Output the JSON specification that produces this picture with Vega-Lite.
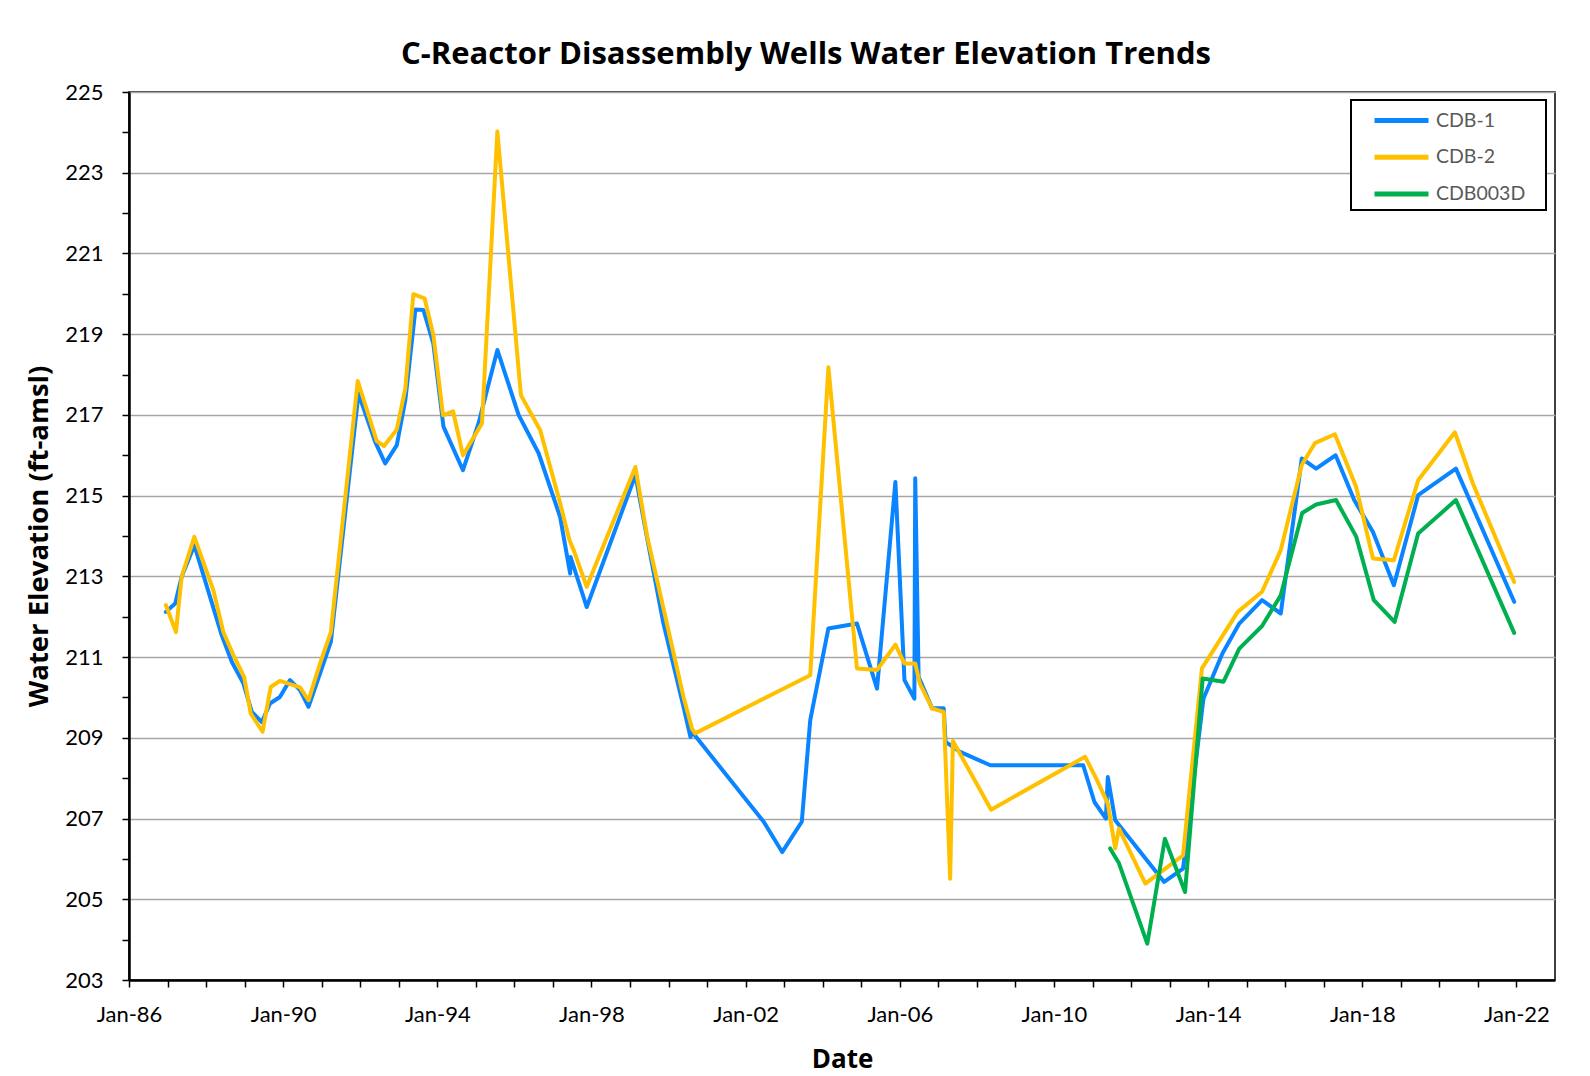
{
  "$schema": "https://vega.github.io/schema/vega-lite/v6.json",
  "autosize": {"type": "none"},
  "padding": {"left": 129, "top": 92, "right": 35, "bottom": 96},
  "width": 1426,
  "height": 888,
  "background": "white",
  "config": {
    "font": "Lato",
    "view": {"stroke": "#000000", "strokeWidth": 1.5},
    "axis": {"labelColor": "#000000", "titleColor": "#000000", "labelFont": "Lato", "titleFont": "Open Sans"}
  },
  "title": {
    "text": "C-Reactor Disassembly Wells Water Elevation Trends",
    "font": "Open Sans",
    "fontSize": 31,
    "fontWeight": "bold",
    "color": "#000000",
    "anchor": "middle",
    "baseline": "alphabetic",
    "offset": 28,
    "dx": -36,
    "dy": 42
  },
  "data": {
    "values": [
      {"well": "CDB-1", "date": "1986-12-16", "elev": 212.12},
      {"well": "CDB-1", "date": "1987-03-15", "elev": 212.33},
      {"well": "CDB-1", "date": "1987-05-15", "elev": 212.99},
      {"well": "CDB-1", "date": "1987-09-12", "elev": 213.77},
      {"well": "CDB-1", "date": "1988-05-29", "elev": 211.54},
      {"well": "CDB-1", "date": "1988-09-02", "elev": 210.88},
      {"well": "CDB-1", "date": "1988-12-20", "elev": 210.35},
      {"well": "CDB-1", "date": "1989-03-10", "elev": 209.64},
      {"well": "CDB-1", "date": "1989-06-13", "elev": 209.39},
      {"well": "CDB-1", "date": "1989-08-29", "elev": 209.85},
      {"well": "CDB-1", "date": "1989-12-01", "elev": 210.01},
      {"well": "CDB-1", "date": "1990-03-07", "elev": 210.43},
      {"well": "CDB-1", "date": "1990-06-10", "elev": 210.18},
      {"well": "CDB-1", "date": "1990-08-29", "elev": 209.77},
      {"well": "CDB-1", "date": "1990-12-16", "elev": 210.59},
      {"well": "CDB-1", "date": "1991-03-29", "elev": 211.38},
      {"well": "CDB-1", "date": "1991-12-16", "elev": 217.53},
      {"well": "CDB-1", "date": "1992-05-22", "elev": 216.33},
      {"well": "CDB-1", "date": "1992-08-25", "elev": 215.8},
      {"well": "CDB-1", "date": "1992-12-13", "elev": 216.25},
      {"well": "CDB-1", "date": "1993-03-04", "elev": 217.37},
      {"well": "CDB-1", "date": "1993-06-07", "elev": 219.61},
      {"well": "CDB-1", "date": "1993-08-22", "elev": 219.6},
      {"well": "CDB-1", "date": "1993-11-24", "elev": 218.77},
      {"well": "CDB-1", "date": "1994-02-28", "elev": 216.71},
      {"well": "CDB-1", "date": "1994-09-01", "elev": 215.63},
      {"well": "CDB-1", "date": "1995-01-26", "elev": 216.79},
      {"well": "CDB-1", "date": "1995-07-24", "elev": 218.61},
      {"well": "CDB-1", "date": "1996-02-10", "elev": 217.0},
      {"well": "CDB-1", "date": "1996-08-18", "elev": 216.05},
      {"well": "CDB-1", "date": "1997-03-10", "elev": 214.47},
      {"well": "CDB-1", "date": "1997-06-13", "elev": 213.07},
      {"well": "CDB-1", "date": "1997-06-17", "elev": 213.48},
      {"well": "CDB-1", "date": "1997-11-17", "elev": 212.24},
      {"well": "CDB-1", "date": "1999-02-21", "elev": 215.51},
      {"well": "CDB-1", "date": "1999-06-10", "elev": 213.98},
      {"well": "CDB-1", "date": "1999-11-14", "elev": 211.83},
      {"well": "CDB-1", "date": "2000-05-22", "elev": 209.77},
      {"well": "CDB-1", "date": "2000-07-27", "elev": 209.02},
      {"well": "CDB-1", "date": "2000-08-10", "elev": 209.15},
      {"well": "CDB-1", "date": "2002-06-21", "elev": 206.92},
      {"well": "CDB-1", "date": "2002-12-13", "elev": 206.17},
      {"well": "CDB-1", "date": "2003-06-17", "elev": 206.92},
      {"well": "CDB-1", "date": "2003-09-05", "elev": 209.44},
      {"well": "CDB-1", "date": "2004-02-24", "elev": 211.71},
      {"well": "CDB-1", "date": "2004-11-21", "elev": 211.83},
      {"well": "CDB-1", "date": "2005-05-30", "elev": 210.22},
      {"well": "CDB-1", "date": "2005-11-20", "elev": 215.34},
      {"well": "CDB-1", "date": "2006-02-14", "elev": 210.43},
      {"well": "CDB-1", "date": "2006-05-19", "elev": 209.97},
      {"well": "CDB-1", "date": "2006-05-27", "elev": 215.43},
      {"well": "CDB-1", "date": "2006-06-28", "elev": 210.51},
      {"well": "CDB-1", "date": "2006-11-03", "elev": 209.73},
      {"well": "CDB-1", "date": "2007-02-21", "elev": 209.73},
      {"well": "CDB-1", "date": "2007-03-10", "elev": 208.9},
      {"well": "CDB-1", "date": "2007-07-27", "elev": 208.65},
      {"well": "CDB-1", "date": "2008-05-08", "elev": 208.32},
      {"well": "CDB-1", "date": "2010-10-05", "elev": 208.32},
      {"well": "CDB-1", "date": "2011-01-19", "elev": 207.41},
      {"well": "CDB-1", "date": "2011-05-08", "elev": 207.0},
      {"well": "CDB-1", "date": "2011-05-26", "elev": 208.03},
      {"well": "CDB-1", "date": "2011-08-04", "elev": 206.96},
      {"well": "CDB-1", "date": "2012-11-10", "elev": 205.43},
      {"well": "CDB-1", "date": "2013-05-08", "elev": 205.76},
      {"well": "CDB-1", "date": "2013-11-17", "elev": 209.97},
      {"well": "CDB-1", "date": "2014-05-16", "elev": 211.09},
      {"well": "CDB-1", "date": "2014-10-23", "elev": 211.83},
      {"well": "CDB-1", "date": "2015-05-27", "elev": 212.41},
      {"well": "CDB-1", "date": "2015-11-20", "elev": 212.08},
      {"well": "CDB-1", "date": "2016-06-06", "elev": 215.92},
      {"well": "CDB-1", "date": "2016-10-20", "elev": 215.67},
      {"well": "CDB-1", "date": "2017-04-23", "elev": 216.0},
      {"well": "CDB-1", "date": "2017-10-16", "elev": 214.89},
      {"well": "CDB-1", "date": "2018-04-12", "elev": 214.1},
      {"well": "CDB-1", "date": "2018-10-27", "elev": 212.78},
      {"well": "CDB-1", "date": "2019-06-14", "elev": 215.01},
      {"well": "CDB-1", "date": "2020-06-06", "elev": 215.67},
      {"well": "CDB-1", "date": "2021-12-10", "elev": 212.37},
      {"well": "CDB-2", "date": "1986-12-16", "elev": 212.29},
      {"well": "CDB-2", "date": "1987-03-22", "elev": 211.62},
      {"well": "CDB-2", "date": "1987-05-15", "elev": 212.99},
      {"well": "CDB-2", "date": "1987-09-12", "elev": 213.98},
      {"well": "CDB-2", "date": "1988-03-10", "elev": 212.66},
      {"well": "CDB-2", "date": "1988-06-13", "elev": 211.62},
      {"well": "CDB-2", "date": "1988-09-16", "elev": 211.05},
      {"well": "CDB-2", "date": "1988-12-27", "elev": 210.51},
      {"well": "CDB-2", "date": "1989-02-28", "elev": 209.6},
      {"well": "CDB-2", "date": "1989-06-20", "elev": 209.15},
      {"well": "CDB-2", "date": "1989-09-05", "elev": 210.26},
      {"well": "CDB-2", "date": "1989-12-01", "elev": 210.41},
      {"well": "CDB-2", "date": "1990-06-10", "elev": 210.25},
      {"well": "CDB-2", "date": "1990-08-29", "elev": 209.93},
      {"well": "CDB-2", "date": "1990-12-16", "elev": 210.84},
      {"well": "CDB-2", "date": "1991-03-29", "elev": 211.62},
      {"well": "CDB-2", "date": "1991-12-09", "elev": 217.84},
      {"well": "CDB-2", "date": "1992-06-06", "elev": 216.35},
      {"well": "CDB-2", "date": "1992-08-14", "elev": 216.23},
      {"well": "CDB-2", "date": "1992-12-13", "elev": 216.64},
      {"well": "CDB-2", "date": "1993-03-04", "elev": 217.66},
      {"well": "CDB-2", "date": "1993-05-19", "elev": 219.99},
      {"well": "CDB-2", "date": "1993-09-02", "elev": 219.89},
      {"well": "CDB-2", "date": "1993-11-24", "elev": 218.98},
      {"well": "CDB-2", "date": "1994-02-24", "elev": 216.99},
      {"well": "CDB-2", "date": "1994-05-30", "elev": 217.09},
      {"well": "CDB-2", "date": "1994-09-01", "elev": 216.0},
      {"well": "CDB-2", "date": "1995-02-28", "elev": 216.79},
      {"well": "CDB-2", "date": "1995-07-24", "elev": 224.02},
      {"well": "CDB-2", "date": "1996-03-03", "elev": 217.49},
      {"well": "CDB-2", "date": "1996-09-02", "elev": 216.62},
      {"well": "CDB-2", "date": "1997-03-10", "elev": 214.81},
      {"well": "CDB-2", "date": "1997-06-06", "elev": 213.9},
      {"well": "CDB-2", "date": "1997-07-16", "elev": 213.65},
      {"well": "CDB-2", "date": "1997-11-17", "elev": 212.74},
      {"well": "CDB-2", "date": "1999-02-21", "elev": 215.71},
      {"well": "CDB-2", "date": "1999-06-10", "elev": 214.02},
      {"well": "CDB-2", "date": "2000-05-22", "elev": 210.01},
      {"well": "CDB-2", "date": "2000-08-10", "elev": 209.23},
      {"well": "CDB-2", "date": "2000-09-09", "elev": 209.11},
      {"well": "CDB-2", "date": "2003-09-05", "elev": 210.55},
      {"well": "CDB-2", "date": "2004-02-24", "elev": 218.18},
      {"well": "CDB-2", "date": "2004-11-21", "elev": 210.72},
      {"well": "CDB-2", "date": "2005-05-30", "elev": 210.68},
      {"well": "CDB-2", "date": "2005-11-20", "elev": 211.31},
      {"well": "CDB-2", "date": "2006-02-14", "elev": 210.84},
      {"well": "CDB-2", "date": "2006-05-27", "elev": 210.84},
      {"well": "CDB-2", "date": "2006-07-09", "elev": 210.35},
      {"well": "CDB-2", "date": "2006-11-03", "elev": 209.73},
      {"well": "CDB-2", "date": "2007-02-21", "elev": 209.64},
      {"well": "CDB-2", "date": "2007-04-23", "elev": 205.51},
      {"well": "CDB-2", "date": "2007-05-19", "elev": 208.92},
      {"well": "CDB-2", "date": "2008-05-15", "elev": 207.22},
      {"well": "CDB-2", "date": "2010-10-23", "elev": 208.53},
      {"well": "CDB-2", "date": "2011-02-06", "elev": 207.99},
      {"well": "CDB-2", "date": "2011-05-26", "elev": 207.37},
      {"well": "CDB-2", "date": "2011-08-04", "elev": 206.26},
      {"well": "CDB-2", "date": "2011-09-09", "elev": 206.75},
      {"well": "CDB-2", "date": "2012-05-16", "elev": 205.39},
      {"well": "CDB-2", "date": "2013-05-08", "elev": 206.09},
      {"well": "CDB-2", "date": "2013-11-03", "elev": 210.72},
      {"well": "CDB-2", "date": "2014-10-08", "elev": 212.12},
      {"well": "CDB-2", "date": "2015-05-27", "elev": 212.62},
      {"well": "CDB-2", "date": "2015-11-20", "elev": 213.65},
      {"well": "CDB-2", "date": "2016-06-06", "elev": 215.76},
      {"well": "CDB-2", "date": "2016-10-08", "elev": 216.3},
      {"well": "CDB-2", "date": "2017-04-16", "elev": 216.52},
      {"well": "CDB-2", "date": "2017-11-03", "elev": 215.22},
      {"well": "CDB-2", "date": "2018-04-12", "elev": 213.44},
      {"well": "CDB-2", "date": "2018-10-27", "elev": 213.4},
      {"well": "CDB-2", "date": "2019-06-14", "elev": 215.38},
      {"well": "CDB-2", "date": "2020-05-27", "elev": 216.57},
      {"well": "CDB-2", "date": "2020-11-14", "elev": 215.3},
      {"well": "CDB-2", "date": "2021-12-10", "elev": 212.86},
      {"well": "CDB003D", "date": "2011-06-17", "elev": 206.26},
      {"well": "CDB003D", "date": "2011-09-09", "elev": 205.89},
      {"well": "CDB003D", "date": "2012-06-03", "elev": 203.9},
      {"well": "CDB003D", "date": "2012-11-17", "elev": 206.5},
      {"well": "CDB003D", "date": "2013-05-27", "elev": 205.18},
      {"well": "CDB003D", "date": "2013-11-10", "elev": 210.47},
      {"well": "CDB003D", "date": "2014-05-27", "elev": 210.39},
      {"well": "CDB003D", "date": "2014-10-23", "elev": 211.21},
      {"well": "CDB003D", "date": "2015-05-27", "elev": 211.77},
      {"well": "CDB003D", "date": "2015-11-20", "elev": 212.53},
      {"well": "CDB003D", "date": "2016-06-10", "elev": 214.57},
      {"well": "CDB003D", "date": "2016-10-20", "elev": 214.78},
      {"well": "CDB003D", "date": "2017-04-27", "elev": 214.89},
      {"well": "CDB003D", "date": "2017-11-03", "elev": 213.99},
      {"well": "CDB003D", "date": "2018-04-20", "elev": 212.41},
      {"well": "CDB003D", "date": "2018-11-03", "elev": 211.87},
      {"well": "CDB003D", "date": "2019-06-14", "elev": 214.06},
      {"well": "CDB003D", "date": "2020-06-06", "elev": 214.89},
      {"well": "CDB003D", "date": "2021-12-10", "elev": 211.6}
    ]
  },
  "mark": {"type": "line", "strokeWidth": 4, "strokeJoin": "round", "strokeCap": "round", "clip": true},
  "encoding": {
    "x": {
      "field": "date",
      "type": "temporal",
      "scale": {"type": "utc", "domain": [{"year": 1986, "month": 1, "date": 1, "utc": true}, {"year": 2023, "month": 1, "date": 1, "utc": true}], "nice": false},
      "axis": {
        "title": "Date",
        "titleFontSize": 26,
        "titleFontWeight": "bold",
        "titleBaseline": "alphabetic",
        "titleAnchor": "middle",
        "titleX": 713,
        "titleY": 87,
        "values": [
          {"year": 1986, "month": 1, "date": 1, "utc": true},
          {"year": 1987, "month": 1, "date": 1, "utc": true},
          {"year": 1988, "month": 1, "date": 1, "utc": true},
          {"year": 1989, "month": 1, "date": 1, "utc": true},
          {"year": 1990, "month": 1, "date": 1, "utc": true},
          {"year": 1991, "month": 1, "date": 1, "utc": true},
          {"year": 1992, "month": 1, "date": 1, "utc": true},
          {"year": 1993, "month": 1, "date": 1, "utc": true},
          {"year": 1994, "month": 1, "date": 1, "utc": true},
          {"year": 1995, "month": 1, "date": 1, "utc": true},
          {"year": 1996, "month": 1, "date": 1, "utc": true},
          {"year": 1997, "month": 1, "date": 1, "utc": true},
          {"year": 1998, "month": 1, "date": 1, "utc": true},
          {"year": 1999, "month": 1, "date": 1, "utc": true},
          {"year": 2000, "month": 1, "date": 1, "utc": true},
          {"year": 2001, "month": 1, "date": 1, "utc": true},
          {"year": 2002, "month": 1, "date": 1, "utc": true},
          {"year": 2003, "month": 1, "date": 1, "utc": true},
          {"year": 2004, "month": 1, "date": 1, "utc": true},
          {"year": 2005, "month": 1, "date": 1, "utc": true},
          {"year": 2006, "month": 1, "date": 1, "utc": true},
          {"year": 2007, "month": 1, "date": 1, "utc": true},
          {"year": 2008, "month": 1, "date": 1, "utc": true},
          {"year": 2009, "month": 1, "date": 1, "utc": true},
          {"year": 2010, "month": 1, "date": 1, "utc": true},
          {"year": 2011, "month": 1, "date": 1, "utc": true},
          {"year": 2012, "month": 1, "date": 1, "utc": true},
          {"year": 2013, "month": 1, "date": 1, "utc": true},
          {"year": 2014, "month": 1, "date": 1, "utc": true},
          {"year": 2015, "month": 1, "date": 1, "utc": true},
          {"year": 2016, "month": 1, "date": 1, "utc": true},
          {"year": 2017, "month": 1, "date": 1, "utc": true},
          {"year": 2018, "month": 1, "date": 1, "utc": true},
          {"year": 2019, "month": 1, "date": 1, "utc": true},
          {"year": 2020, "month": 1, "date": 1, "utc": true},
          {"year": 2021, "month": 1, "date": 1, "utc": true},
          {"year": 2022, "month": 1, "date": 1, "utc": true}
        ],
        "labelExpr": "utcyear(datum.value) % 4 == 2 ? utcFormat(datum.value, 'Jan-%y') : ''",
        "labelFontSize": 22,
        "labelBaseline": "alphabetic",
        "labelPadding": 34,
        "labelOverlap": false,
        "labelFlush": false,
        "grid": false,
        "domainColor": "#000000",
        "domainWidth": 2.5,
        "tickColor": "#000000",
        "tickWidth": 1.5,
        "tickSize": 7
      }
    },
    "y": {
      "field": "elev",
      "type": "quantitative",
      "scale": {"domain": [203, 225], "nice": false, "zero": false},
      "axis": {
        "title": "Water Elevation  (ft-amsl)",
        "titleFontSize": 27.5,
        "titleFontWeight": "bold",
        "titleAngle": -90,
        "titleAlign": "center",
        "titleBaseline": "alphabetic",
        "titleX": -82,
        "titleY": 444,
        "values": [203, 204, 205, 206, 207, 208, 209, 210, 211, 212, 213, 214, 215, 216, 217, 218, 219, 220, 221, 222, 223, 224, 225],
        "labelExpr": "datum.value % 2 == 1 ? datum.label : ''",
        "labelFontSize": 22,
        "labelPadding": 19,
        "labelOverlap": false,
        "labelFlush": false,
        "grid": true,
        "gridColor": "#a6a6a6",
        "gridWidth": 1.5,
        "gridOpacity": {"condition": {"test": "datum.value % 2 == 1", "value": 1}, "value": 0},
        "domainColor": "#000000",
        "domainWidth": 2.5,
        "tickColor": "#000000",
        "tickWidth": 1.5,
        "tickSize": 7
      }
    },
    "color": {
      "field": "well",
      "type": "nominal",
      "scale": {"domain": ["CDB-1", "CDB-2", "CDB003D"], "range": ["#0A84FF", "#FFC000", "#00B050"]},
      "legend": {
        "title": null,
        "orient": "none",
        "legendX": 1222,
        "legendY": 8,
        "fillColor": "#ffffff",
        "strokeColor": "#000000",
        "padding": 0,
        "symbolType": "M-1.5,0H1.5M7.45,0.305M7.45,-0.305",
        "symbolSize": 1296,
        "symbolStrokeWidth": 5,
        "symbolOffset": 30,
        "labelOffset": 14,
        "labelFontSize": 19.5,
        "labelColor": "#595959",
        "labelFont": "Lato",
        "rowPadding": 0.7,
        "encode": {"legend": {"update": {"strokeWidth": {"value": 2}}}}
      }
    }
  }
}
